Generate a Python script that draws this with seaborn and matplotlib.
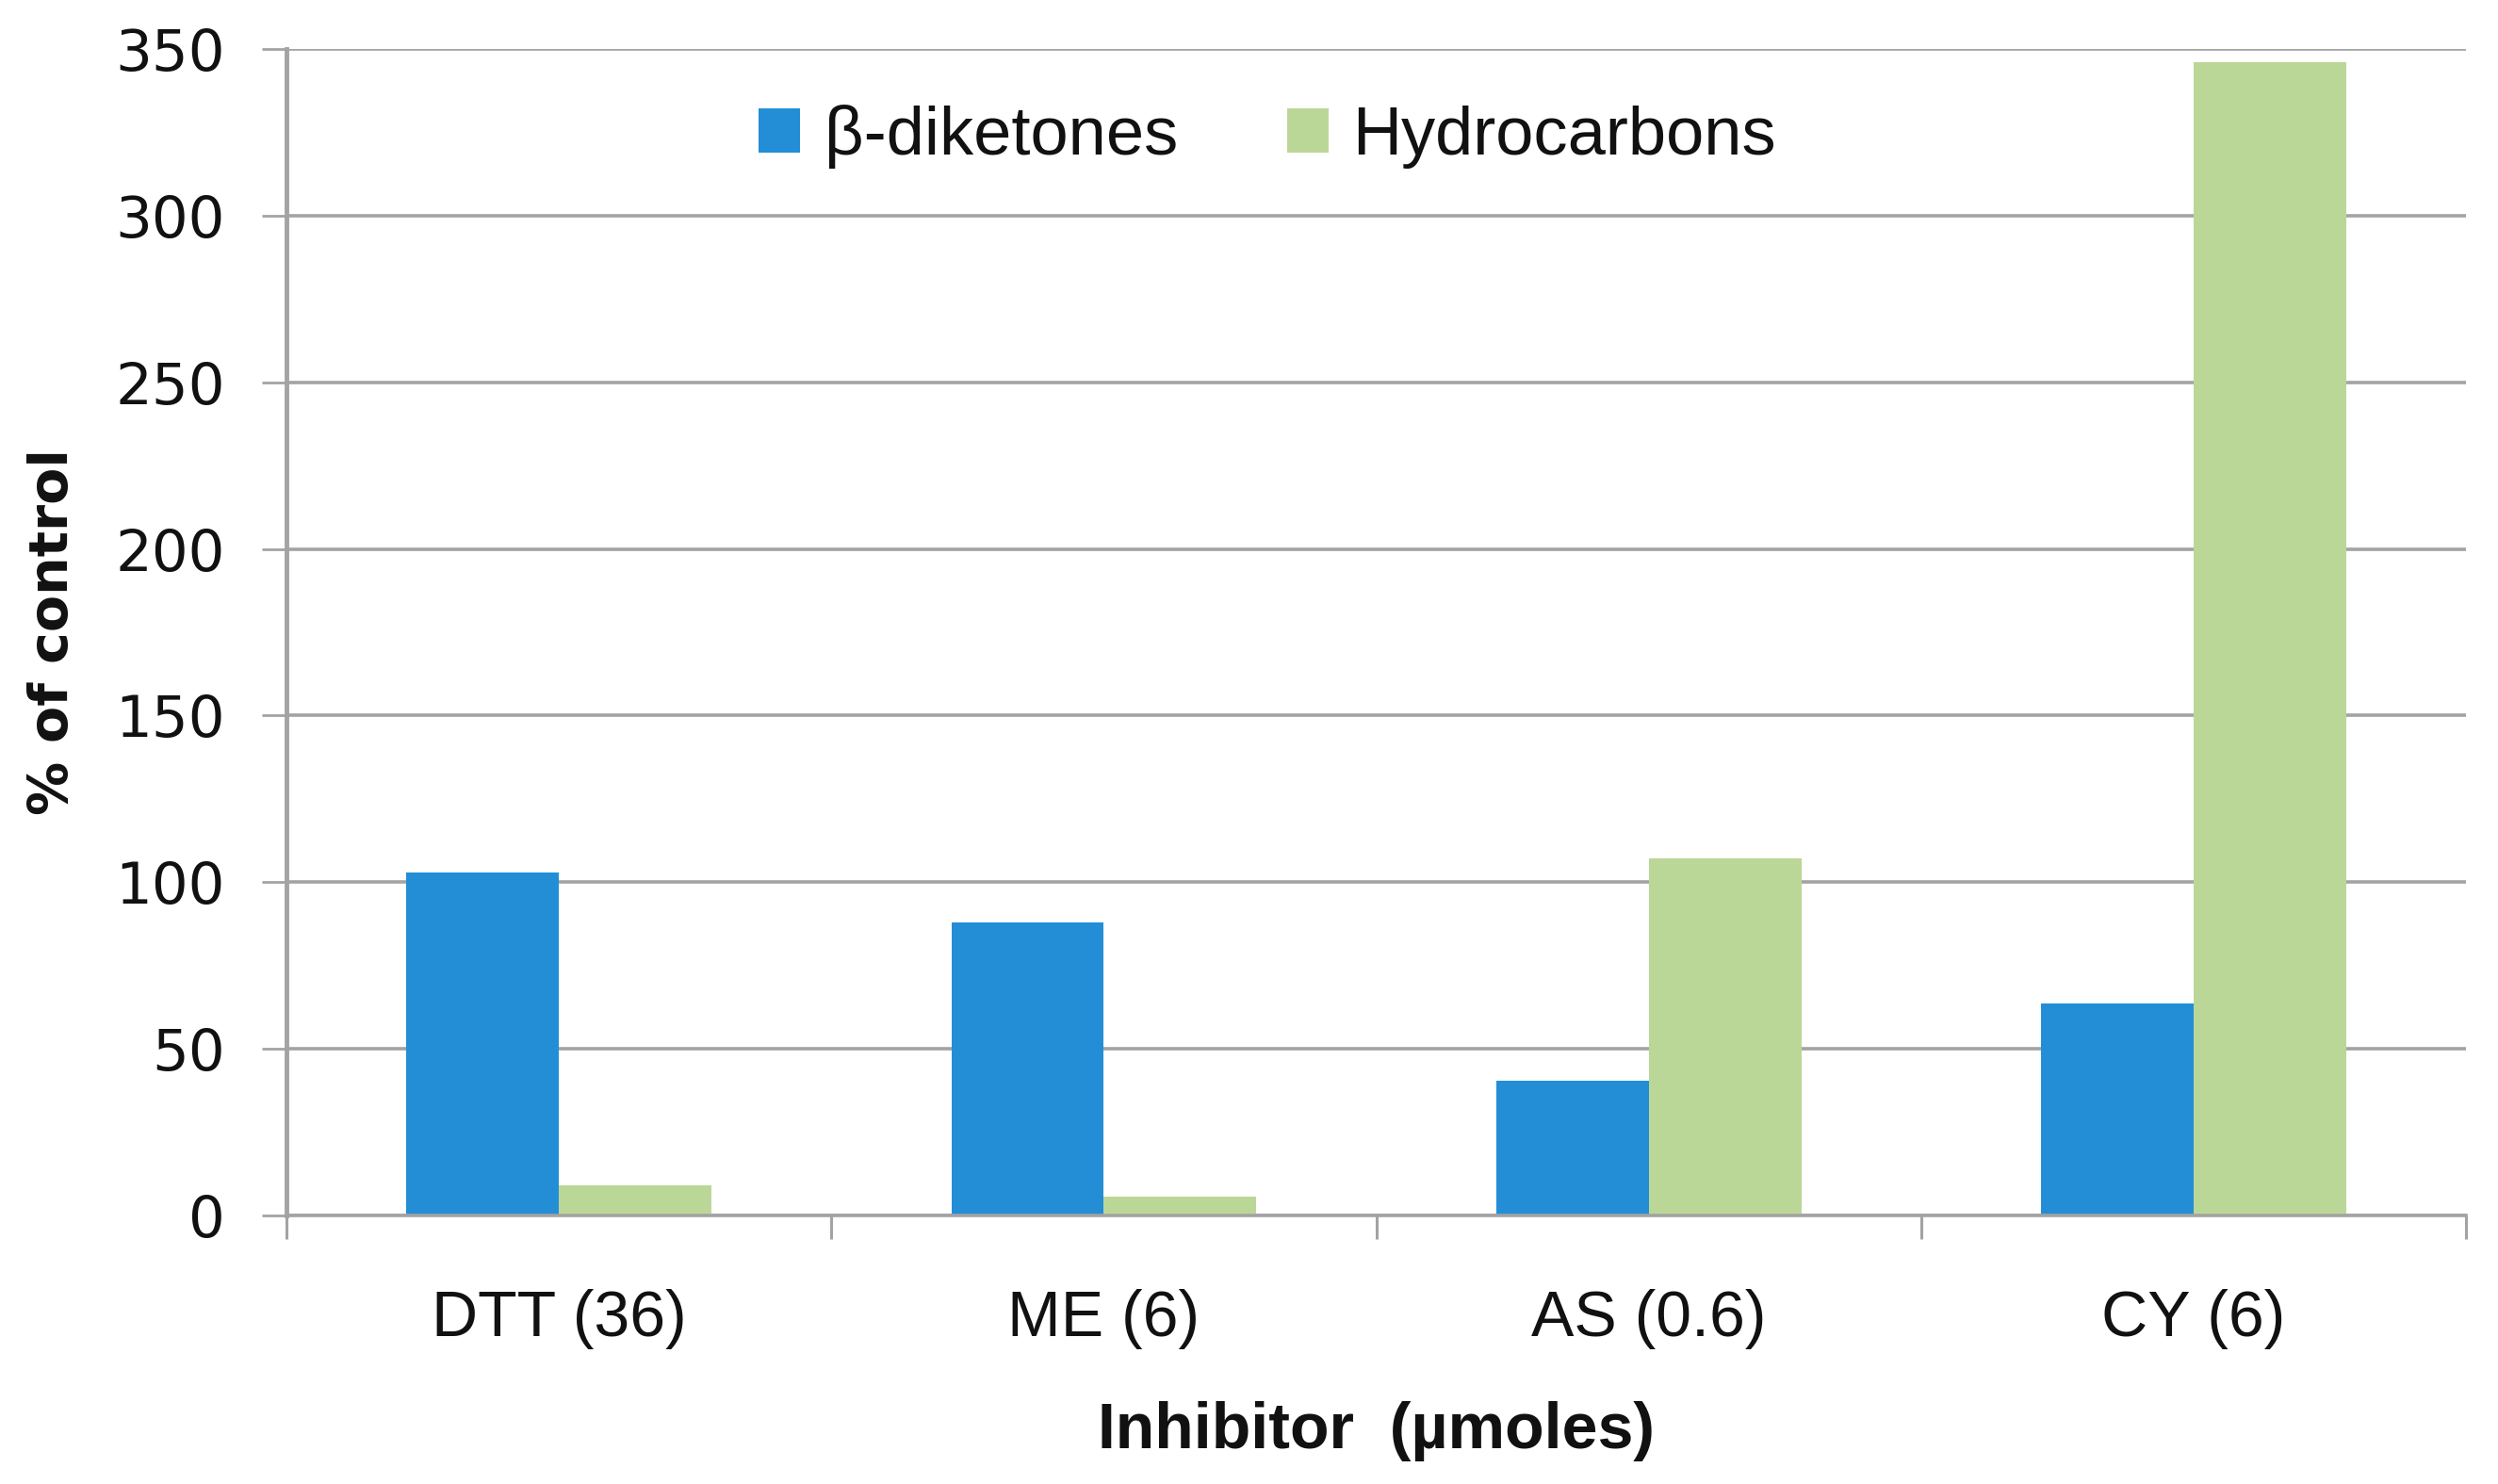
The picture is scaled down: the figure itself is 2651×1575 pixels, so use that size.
import pandas as pd
import matplotlib.pyplot as plt
import seaborn as sns
import numpy as np

# values
inhibitors = ["DTT (36)", "ME (6)", "AS (0.6)", "CY (6)"]
diketones = [103, 88, 40.5, 63.5]
hydrocarbons = [9, 5.5, 107, 346]
series_names = ["\u03b2-diketones", "Hydrocarbons"]
series_colors = ["#238ED6", "#BBD797"]
y_ticks = [0, 50, 100, 150, 200, 250, 300, 350]

df = pd.DataFrame({
    "inhibitor": inhibitors * 2,
    "value": diketones + hydrocarbons,
    "compound": [series_names[0]] * 4 + [series_names[1]] * 4,
})

sns.set_style("white")
plt.rcParams["font.family"] = ["Liberation Sans", "DejaVu Sans"]

grid_col = "#a3a3a3"
txt_col = "#111111"

fig = plt.figure(figsize=(26.51, 15.75), dpi=100)
ax = fig.add_axes([0.1147, 0.181, 0.8725, 0.786])

ax.set_axisbelow(True)
for v in y_ticks:
    ax.axhline(v, color=grid_col, lw=2.6, zorder=0)

sns.barplot(data=df, x="inhibitor", y="value", hue="compound",
            palette=series_colors, saturation=1, width=0.56,
            edgecolor="none", linewidth=0, ax=ax, zorder=2)

ax.set_xlim(-0.5, 3.5)
ax.set_ylim(0, 350)
ax.set_yticks(y_ticks)
ax.set_yticklabels([str(v) for v in y_ticks], fontsize=44,
                   family=["DejaVu Sans"], color=txt_col)
ax.tick_params(axis="y", length=19, width=2, color=grid_col, pad=28, left=True)

ax.set_xticks(range(len(inhibitors)))
ax.set_xticklabels(inhibitors, fontsize=49, color=txt_col)
ax.tick_params(axis="x", which="major", length=0, pad=56)
ax.set_xticks(np.arange(-0.5, 4, 1), minor=True)
ax.tick_params(axis="x", which="minor", length=18, width=2.2, color=grid_col, bottom=True)

for s in ["top", "right"]:
    ax.spines[s].set_visible(False)
ax.spines["left"].set_color(grid_col)
ax.spines["left"].set_linewidth(3.5)
ax.spines["bottom"].set_color(grid_col)
ax.spines["bottom"].set_linewidth(2.6)

ax.set_xlabel("Inhibitor  (\u00b5moles)", fontsize=49, fontweight="bold",
              color=txt_col, labelpad=40)
ax.set_ylabel("% of control", fontsize=41, fontweight="bold",
              family=["DejaVu Sans"], color=txt_col)
ax.yaxis.set_label_coords(-0.095, 0.5)

leg = ax.legend(loc="center", bbox_to_anchor=(0.45, 0.925), ncol=2, frameon=False,
                fontsize=52, handlelength=0.62, handleheight=0.62,
                handletextpad=0.35, columnspacing=1.6)
for t in leg.get_texts():
    t.set_color(txt_col)

fig.savefig("out.png", dpi=100)
